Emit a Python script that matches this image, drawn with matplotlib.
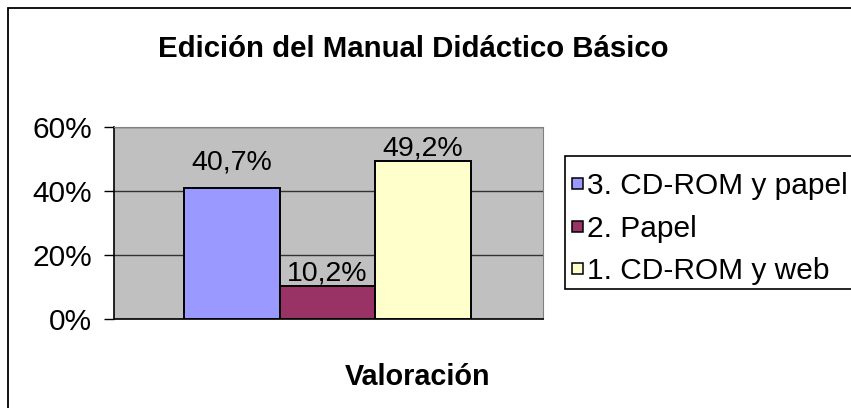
import matplotlib
matplotlib.use("Agg")
import matplotlib.pyplot as plt
from matplotlib.patches import Rectangle
from matplotlib.ticker import FuncFormatter

plt.rcParams['font.family'] = ['Liberation Sans', 'DejaVu Sans']

# data
categories = ["3. CD-ROM y papel", "2. Papel", "1. CD-ROM y web"]
values = [40.7, 10.2, 49.2]
value_labels = ["40,7%", "10,2%", "49,2%"]
bar_colors = ["#9999FF", "#993366", "#FFFFCC"]
yticks = [0, 20, 40, 60]

# label offsets above bars (points), as placed in the original chart
label_offsets = [13.5, 3.6, 4.1]

W, H = 851, 408
fig = plt.figure(figsize=(W / 100, H / 100), dpi=100)

def fx(px):
    return px / W

def fy(py):
    return 1 - py / H

# outer chart frame (cut at right and bottom like the original)
fig.patches.append(Rectangle((fx(8), -0.2), 1.2, fy(8) + 0.2,
                             transform=fig.transFigure, fill=False,
                             edgecolor="black", linewidth=1.3))

ax = fig.add_axes([fx(114), fy(318.5), fx(543 - 114), (318.5 - 126.7) / H])
ax.set_facecolor("#C0C0C0")

x = range(len(values))
ax.bar(x, values, width=1.0, color=bar_colors, edgecolor="black", linewidth=1.4, zorder=3)

for i, (v, lab) in enumerate(zip(values, value_labels)):
    ax.annotate(lab, (i, v), xytext=(0, label_offsets[i]), textcoords="offset points",
                ha="center", va="baseline", fontsize=20.5, zorder=4)

ax.set_xlim(-1.236, 3.257)
ax.set_ylim(0, 60)
ax.set_yticks(yticks)
ax.yaxis.set_major_formatter(FuncFormatter(lambda v, p: f"{v:.0f}%"))
ax.tick_params(axis="y", labelsize=21.5, length=7, width=1, pad=9, direction="out")
ax.set_xticks([])
ax.yaxis.grid(True, color="#333333", linewidth=1, zorder=1)
ax.set_axisbelow(True)

ax.spines["left"].set_color("black")
ax.spines["bottom"].set_color("black")
ax.spines["left"].set_linewidth(1.2)
ax.spines["bottom"].set_linewidth(1.2)
ax.spines["top"].set_color("#808080")
ax.spines["right"].set_color("#808080")

fig.text(fx(413), fy(57), "Edición del Manual Didáctico Básico", ha="center",
         va="baseline", fontsize=21.2, fontweight="bold")
fig.text(fx(418), fy(385), "Valoración", ha="center", va="baseline",
         fontsize=20.7, fontweight="bold")

# legend, drawn by hand (box runs past the right edge like the original)
fig.patches.append(Rectangle((fx(565), fy(289)), 0.5, (289 - 156) / H,
                             transform=fig.transFigure, facecolor="white",
                             edgecolor="black", linewidth=1.2, zorder=5))
row_y = [183, 226, 268]
for cy, lab, c in zip(row_y, categories, bar_colors):
    fig.patches.append(Rectangle((fx(572), fy(cy + 5.5)), fx(11), 11 / H,
                                 transform=fig.transFigure, facecolor=c,
                                 edgecolor="black", linewidth=1.1, zorder=6))
    fig.text(fx(587), fy(cy), lab, ha="left", va="center_baseline",
             fontsize=21.5, zorder=6)

fig.savefig("out.png", dpi=100)
